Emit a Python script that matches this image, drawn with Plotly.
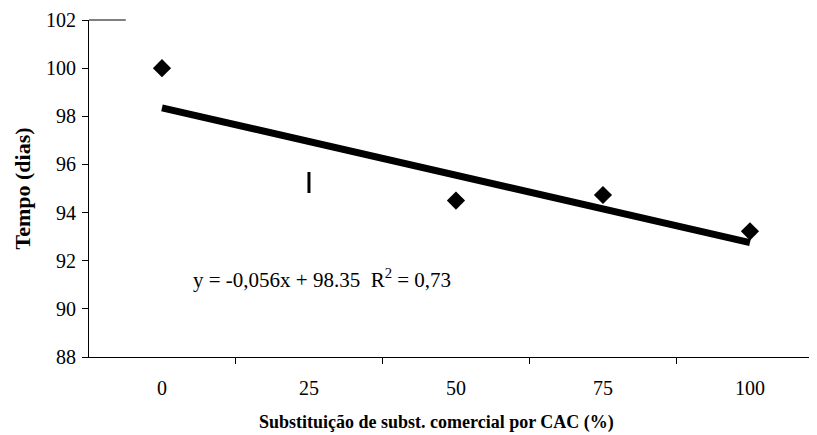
import plotly.graph_objects as go

# Data
categories = [0, 25, 50, 75, 100]
tick_labels = ["0", "25", "50", "75", "100"]
y_ticks = [88, 90, 92, 94, 96, 98, 100, 102]
diamond_x = [0, 50, 75, 100]
diamond_y = [100.0, 94.5, 94.73, 93.22]
bar_x = [25]
bar_y = [95.25]
slope = -0.056
intercept = 98.35
equation_text = "y = -0,056x + 98.35  R<sup>2</sup> = 0,73"
x_title = "Substituição de subst. comercial por CAC (%)"
y_title = "Tempo (dias)"

trend_x = [categories[0], categories[-1]]
trend_y = [intercept + slope * v for v in trend_x]

FONT = "Liberation Serif"

fig = go.Figure()
fig.add_trace(go.Scatter(x=trend_x, y=trend_y, mode="lines",
                         line=dict(color="black", width=7), showlegend=False,
                         hoverinfo="skip"))
fig.add_trace(go.Scatter(x=diamond_x, y=diamond_y, mode="markers",
                         marker=dict(symbol="diamond", size=14, color="black"),
                         showlegend=False))
fig.add_trace(go.Scatter(x=bar_x, y=bar_y, mode="markers",
                         marker=dict(symbol="line-ns", size=15,
                                     line=dict(color="black", width=3)),
                         showlegend=False))

fig.add_annotation(x=5.0, y=91.25, xref="x", yref="y", text=equation_text,
                   showarrow=False, xanchor="left", yanchor="middle",
                   font=dict(family=FONT, size=21, color="black"))

# x-axis title (centred like the reference, slightly left of plot centre)
fig.add_annotation(x=0.4728, y=-0.193, xref="paper", yref="paper",
                   text="<b>" + x_title + "</b>", showarrow=False,
                   xanchor="center", yanchor="middle",
                   font=dict(family=FONT, size=18, color="black"))

# short stub of frame at the top of the value axis
fig.add_shape(type="line", xref="paper", yref="paper", x0=0, x1=0.05, y0=1, y1=1,
              line=dict(color="black", width=1))

fig.update_layout(
    width=817, height=435,
    margin=dict(l=81, r=0, t=12, b=86),
    plot_bgcolor="white", paper_bgcolor="white",
    font=dict(family=FONT, color="black"),
    xaxis=dict(range=[-12.41, 112.76], tickvals=categories, ticktext=tick_labels,
               ticks="", showline=True, linecolor="black", linewidth=1,
               showgrid=False, zeroline=False,
               tickfont=dict(family=FONT, size=20, color="black"),
               ticklabelstandoff=13,
               minor=dict(tick0=-12.5, dtick=25, ticks="outside", ticklen=6,
                          tickcolor="black", tickwidth=1, showgrid=False)),
    yaxis=dict(range=[88, 102], tickvals=y_ticks,
               ticks="outside", ticklen=6, tickcolor="black", tickwidth=1,
               showline=True, linecolor="black", linewidth=1,
               showgrid=False, zeroline=False,
               tickfont=dict(family=FONT, size=20, color="black"),
               ticklabelstandoff=2,
               title=dict(text="<b>" + y_title + "</b>",
                          font=dict(family=FONT, size=22, color="black"),
                          standoff=9)),
)

fig.write_html("out.html")
